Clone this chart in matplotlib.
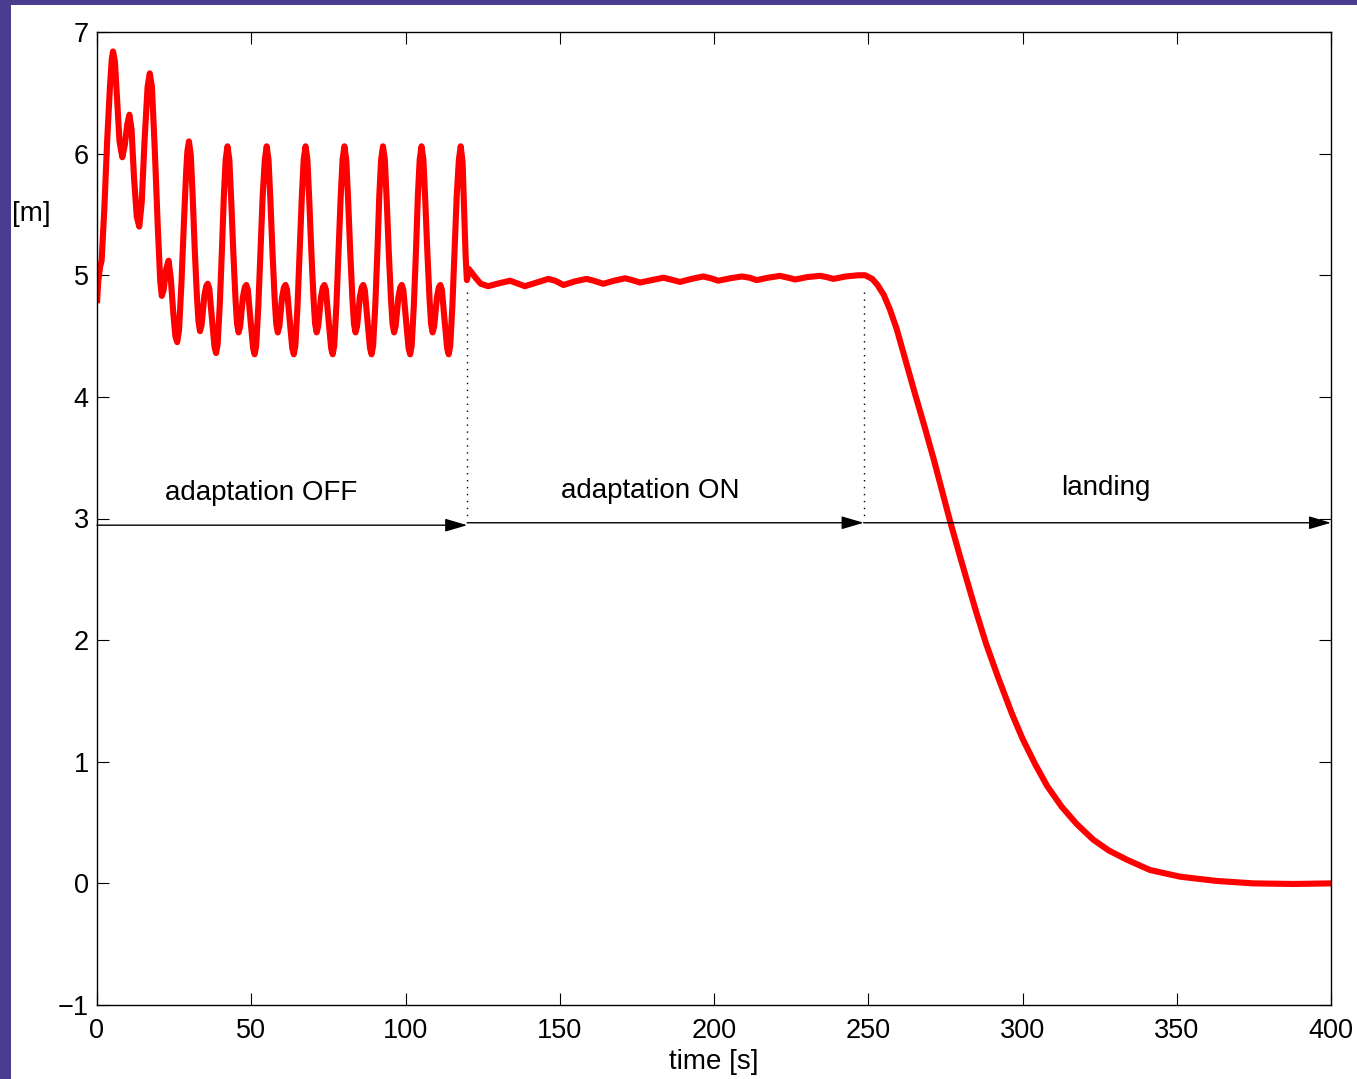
import matplotlib
matplotlib.use("Agg")
import matplotlib.pyplot as plt
from matplotlib.patches import Rectangle
import numpy as np

# height trace, time [s] -> height [m]
# start-up transient
t_start = [0.0, 0.4, 1.0, 1.5, 2.4, 3.3, 4.2, 4.8, 5.2, 5.8, 6.5, 7.3, 8.2, 9.0,
           9.8, 10.5, 11.2, 12.0, 12.9, 13.7, 14.5, 15.4, 16.4, 17.1, 17.8, 18.7,
           19.7, 20.5, 21.0, 21.6, 22.4, 23.2, 23.9, 24.7, 25.4, 26.0, 26.6, 27.4,
           28.2, 28.9, 29.3]
h_start = [4.77, 4.95, 5.07, 5.12, 5.56, 6.11, 6.55, 6.78, 6.84, 6.76, 6.45, 6.10, 5.97, 6.07,
           6.24, 6.32, 6.20, 5.80, 5.48, 5.40, 5.60, 6.10, 6.55, 6.66, 6.55, 6.05,
           5.40, 4.95, 4.83, 4.88, 5.05, 5.12, 4.98, 4.70, 4.50, 4.45, 4.55, 4.95,
           5.45, 5.85, 6.02]

# steady oscillation, adaptation off
t_osc = [29.8, 30.4, 31.0, 31.7, 32.4, 32.9, 33.4, 33.9, 34.8, 35.4, 35.9, 36.4, 37.3, 38.1,
         38.6, 39.1, 39.8, 40.5, 41.1, 41.7,
         42.3, 42.9, 43.5, 44.2, 44.9, 45.4, 45.9, 46.4, 47.3, 47.9, 48.4, 48.9, 49.8, 50.6,
         51.1, 51.6, 52.3, 53.0, 53.7, 54.4,
         55.0, 55.6, 56.2, 56.9, 57.6, 58.1, 58.6, 59.1, 60.0, 60.6, 61.1, 61.6, 62.5, 63.3,
         63.8, 64.3, 65.0, 65.7, 66.4, 67.0,
         67.6, 68.2, 68.8, 69.5, 70.2, 70.7, 71.2, 71.7, 72.6, 73.2, 73.7, 74.2, 75.1, 75.9,
         76.4, 76.9, 77.6, 78.3, 79.0, 79.6,
         80.2, 80.8, 81.4, 82.1, 82.8, 83.3, 83.8, 84.3, 85.2, 85.8, 86.3, 86.8, 87.7, 88.5,
         89.0, 89.5, 90.2, 90.9, 91.5, 92.1,
         92.7, 93.3, 93.9, 94.6, 95.3, 95.8, 96.3, 96.8, 97.7, 98.3, 98.8, 99.3, 100.2, 101.0,
         101.5, 102.0, 102.7, 103.4, 104.0, 104.6,
         105.2, 105.8, 106.4, 107.1, 107.8, 108.3, 108.8, 109.3, 110.2, 110.8, 111.3, 111.8,
         112.7, 113.5, 114.0, 114.5, 115.2, 115.9, 116.6, 117.3,
         117.9, 118.5, 119.0, 119.5, 119.9]
h_osc = [6.10, 5.99, 5.66, 5.20, 4.82, 4.62, 4.54, 4.59, 4.83, 4.91, 4.93, 4.89, 4.63, 4.41,
         4.36, 4.43, 4.76, 5.21, 5.64, 5.95,
         6.06, 5.95, 5.62, 5.18, 4.80, 4.60, 4.53, 4.58, 4.82, 4.90, 4.92, 4.88, 4.62, 4.40,
         4.35, 4.42, 4.75, 5.20, 5.65, 5.95,
         6.06, 5.95, 5.62, 5.18, 4.80, 4.60, 4.53, 4.58, 4.82, 4.90, 4.92, 4.88, 4.62, 4.40,
         4.35, 4.42, 4.75, 5.20, 5.65, 5.95,
         6.06, 5.95, 5.62, 5.18, 4.80, 4.60, 4.53, 4.58, 4.82, 4.90, 4.92, 4.88, 4.62, 4.40,
         4.35, 4.42, 4.75, 5.20, 5.65, 5.95,
         6.06, 5.95, 5.62, 5.18, 4.80, 4.60, 4.53, 4.58, 4.82, 4.90, 4.92, 4.88, 4.62, 4.40,
         4.35, 4.42, 4.75, 5.20, 5.65, 5.95,
         6.06, 5.95, 5.62, 5.18, 4.80, 4.60, 4.53, 4.58, 4.82, 4.90, 4.92, 4.88, 4.62, 4.40,
         4.35, 4.42, 4.75, 5.20, 5.65, 5.95,
         6.06, 5.95, 5.62, 5.18, 4.80, 4.60, 4.53, 4.58, 4.82, 4.90, 4.92, 4.88,
         4.62, 4.40, 4.35, 4.42, 4.75, 5.20, 5.65, 5.95,
         6.06, 5.93, 5.55, 5.15, 4.96]

# adaptation on
t_on = [120.6, 121.8, 123.0, 124.4, 126.8, 130.5, 133.9, 136.0, 138.7, 142.5, 146.3,
        148.5, 151.2, 155.0, 158.7, 161.0, 164.1, 167.6, 171.2, 173.5, 176.0, 179.8,
        183.6, 186.0, 189.0, 192.7, 196.5, 199.0, 201.4, 205.2, 209.0, 211.5, 213.8,
        217.6, 221.4, 224.0, 226.3, 230.3, 234.4, 236.5, 238.7, 242.7, 246.8]
h_on = [5.05, 5.01, 4.97, 4.93, 4.91, 4.935, 4.955, 4.935, 4.91, 4.94, 4.97,
        4.955, 4.92, 4.95, 4.97, 4.955, 4.93, 4.955, 4.975, 4.96, 4.94, 4.96,
        4.98, 4.965, 4.945, 4.97, 4.99, 4.975, 4.955, 4.975, 4.99, 4.98, 4.96,
        4.98, 4.995, 4.98, 4.965, 4.985, 4.995, 4.985, 4.97, 4.99, 5.00]

# landing
t_land = [249.0, 251.3, 253.0, 255.0, 257.0, 259.2, 262.0, 265.1, 268.2, 271.3, 274.0,
          276.5, 279.5, 282.0, 285.0, 288.2, 292.0, 296.5, 300.0, 304.1, 308.0,
          312.7, 317.5, 322.9, 328.0, 333.8, 341.3, 351.1, 362.9, 374.8, 387.8, 400.0]
h_land = [5.00, 4.97, 4.92, 4.84, 4.72, 4.56, 4.31, 4.03, 3.76, 3.48, 3.22,
          2.98, 2.71, 2.49, 2.23, 1.97, 1.70, 1.40, 1.19, 0.98, 0.80,
          0.63, 0.49, 0.36, 0.27, 0.195, 0.11, 0.055, 0.02, 0.0, -0.005, 0.0]

# phase boundaries and labels
phase_edges = [0, 120, 248.5, 400]
phase_arrow_y = [2.945, 2.965, 2.965]
phase_names = ["adaptation OFF", "adaptation ON", "landing"]
phase_label_x = [53.2, 179.3, 327.0]
phase_label_y = [3.21, 3.23, 3.25]

xticks = list(range(0, 401, 50))
yticks = list(range(-1, 8))

plt.rcParams['font.family'] = ['Liberation Sans', 'DejaVu Sans']
plt.rcParams['font.size'] = 19.5

fig = plt.figure(figsize=(13.57, 10.79), dpi=100)
fig.patch.set_facecolor('#4a3d8f')
# white page inside the purple frame (left and top strips)
fig.patches.append(Rectangle((11 / 1357, 0), 1, 1 - 5 / 1079, transform=fig.transFigure,
                             facecolor='white', edgecolor='none', zorder=-10))

ax = fig.add_axes([97 / 1357, 1 - 1005 / 1079, 1234 / 1357, 973 / 1079])
ax.set_zorder(5)

t_all = np.concatenate([t_start, t_osc, t_on, t_land])
h_all = np.concatenate([h_start, h_osc, h_on, h_land])
ax.plot(t_all, h_all, color='#ff0000', lw=4.4, solid_joinstyle='round',
        solid_capstyle='butt', zorder=2)

# dotted separators between phases
for xe in phase_edges[1:3]:
    ax.plot([xe, xe], [4.86, 3.0], color='black', lw=1.0, ls=(0, (1, 4)), zorder=3)

# phase arrows and labels
for i in range(3):
    ax.annotate("", xy=(phase_edges[i + 1], phase_arrow_y[i]),
                xytext=(phase_edges[i], phase_arrow_y[i]),
                arrowprops=dict(arrowstyle='-|>,head_length=0.68,head_width=0.2',
                                mutation_scale=20, color='black', lw=1.0,
                                shrinkA=0, shrinkB=0), zorder=4)
    ax.text(phase_label_x[i], phase_label_y[i], phase_names[i],
            ha='center', va='center', fontsize=20)

ax.set_xlim(0, 400)
ax.set_ylim(-1, 7)
ax.set_xticks(xticks)
ax.set_yticks(yticks)
ax.tick_params(direction='in', length=8.6, width=0.8, top=True, right=True,
               labelsize=19.5)
ax.tick_params(axis='x', pad=9)
ax.tick_params(axis='y', pad=6)
for sp in ax.spines.values():
    sp.set_linewidth(1.0)

ax.set_xlabel("time [s]", fontsize=20, va='center')
ax.xaxis.set_label_coords(0.5, -0.0586)
ax.set_ylabel("[m]", fontsize=20, rotation=0, ha='center', va='center')
ax.yaxis.set_label_coords(-0.0535, 0.8125)

fig.savefig("out.png", dpi=100, facecolor=fig.get_facecolor())
